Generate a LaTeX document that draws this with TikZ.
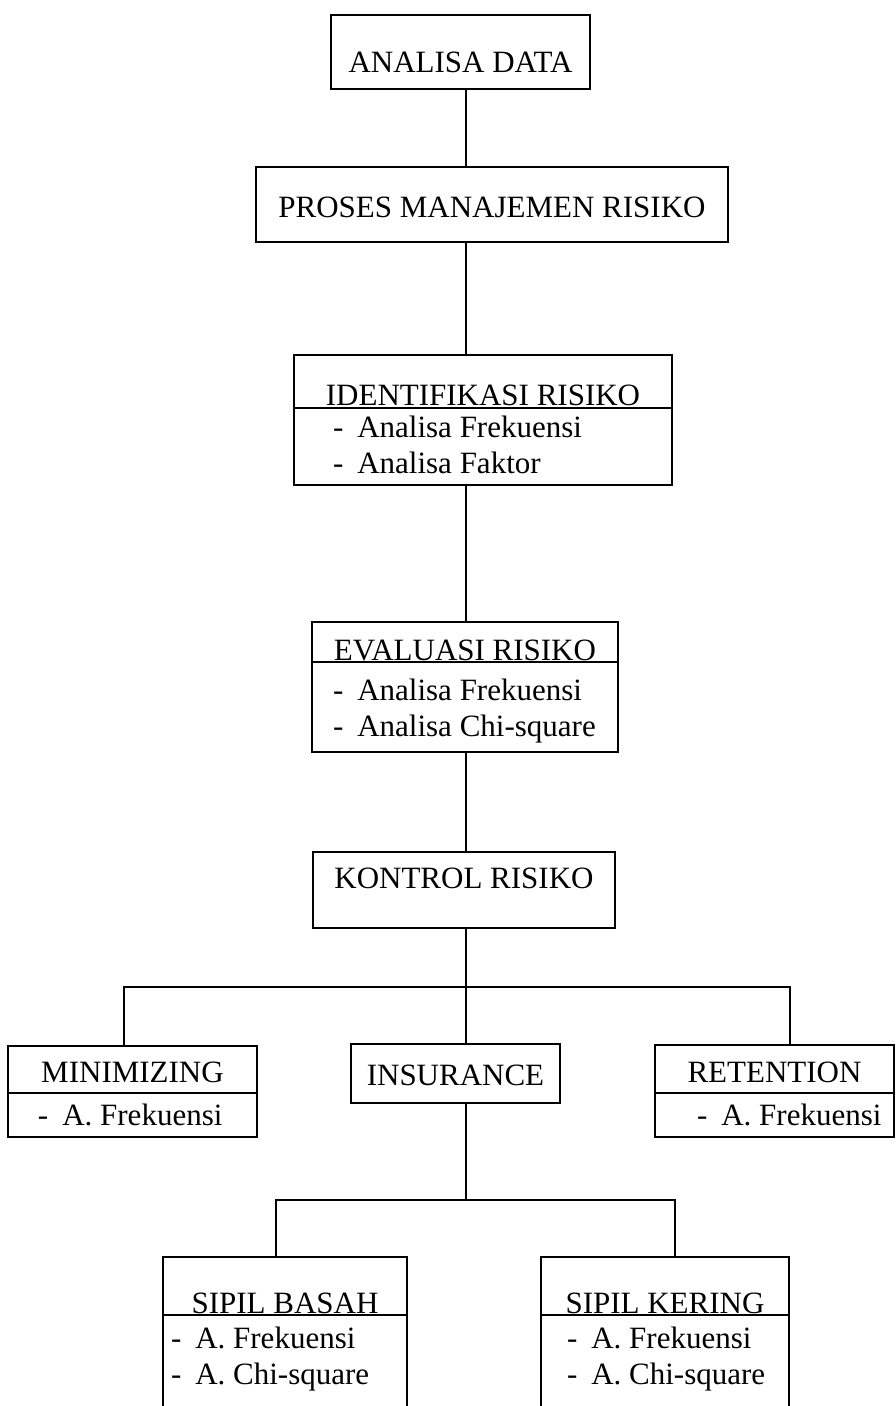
\documentclass[tikz,border=0pt]{standalone}
\usepackage{fontspec}
\setmainfont{Liberation Serif}
\usetikzlibrary{positioning}
% daftar{indent}{lebar sisa}{baris}
\newcommand\daftar[3]{\begin{tabular}[t]{@{\hspace{#1pt}}p{#2pt}@{}}#3\end{tabular}}
\newcommand\butir[1]{-\hspace{14pt}#1}

\begin{document}
\begin{tikzpicture}[x=1pt,y=1pt,line width=2.4pt,
  kotak/.style={draw,rectangle,inner sep=0pt,outer sep=0pt,font=\fontsize{31}{36}\selectfont},
  judul/.style={kotak,anchor=north west,minimum width=#1},
  isi/.style={kotak,minimum width=#1}]
\path[use as bounding box,clip] (0,0) rectangle (896,-1406);
\coordinate (poros) at (466,0);
\node[judul=259,text height=57,text depth=17] (analisa) at (331,-15) {ANALISA DATA};
\node[judul=472,text height=50,text depth=25] (proses) at (256,-167) {PROSES MANAJEMEN RISIKO};
\node[judul=378,text height=50,text depth=3] (identh) at (294,-355) {IDENTIFIKASI RISIKO};
\node[isi=378,text height=29,text depth=48,below=0pt of identh] (identb)
  {\daftar{39}{339}{\butir{Analisa Frekuensi}\\\butir{Analisa Faktor}}};
\node[judul=306,text height=38,text depth=2] (evalh) at (312,-622) {EVALUASI RISIKO};
\node[isi=306,text height=38,text depth=52,below=0pt of evalh] (evalb)
  {\daftar{21}{285}{\butir{Analisa Frekuensi}\\\butir{Analisa Chi-square}}};
\node[judul=302,text height=36,text depth=40] (kontrol) at (313,-852) {KONTROL RISIKO};
% cabang kontrol
\node[judul=249,text height=36,text depth=11] (minimh) at (8,-1046) {MINIMIZING};
\node[isi=249,text height=32,text depth=12,below=0pt of minimh] (minimb)
  {\daftar{30}{219}{\butir{A. Frekuensi}}};
\node[judul=209,text height=41,text depth=18] (insur) at (351,-1044) {INSURANCE};
\node[judul=239,text height=37,text depth=11] (retenh) at (655,-1045) {RETENTION};
\node[isi=239,text height=32,text depth=12,below=0pt of retenh] (retenb)
  {\daftar{42}{197}{\butir{A. Frekuensi}}};
% cabang insurance
\node[judul=244,text height=56,text depth=2] (basahh) at (163,-1257) {SIPIL BASAH};
\node[isi=244,text height=33,text depth=90,below=0pt of basahh] (basahb)
  {\daftar{8}{236}{\butir{A. Frekuensi}\\\butir{A. Chi-square}}};
\node[judul=248,text height=56,text depth=2] (keringh) at (541,-1257) {SIPIL KERING};
\node[isi=248,text height=33,text depth=90,below=0pt of keringh] (keringb)
  {\daftar{26}{222}{\butir{A. Frekuensi}\\\butir{A. Chi-square}}};
% garis
\draw (poros |- analisa.south) -- (poros |- proses.north);
\draw (poros |- proses.south) -- (poros |- identh.north);
\draw (poros |- identb.south) -- (poros |- evalh.north);
\draw (poros |- evalb.south) -- (poros |- kontrol.north);
\draw (poros |- kontrol.south) -- (poros |- insur.north);
\coordinate (cabangkiri) at (124,-987);
\coordinate (cabangkanan) at (790,-987);
\draw (cabangkiri |- minimh.north) -- (cabangkiri) -- (cabangkanan) -- (cabangkanan |- retenh.north);
\coordinate (bawahkiri) at (276,-1200);
\coordinate (bawahkanan) at (675,-1200);
\draw (poros |- insur.south) -- (poros |- bawahkiri);
\draw (bawahkiri |- basahh.north) -- (bawahkiri) -- (bawahkanan) -- (bawahkanan |- keringh.north);
\end{tikzpicture}
\end{document}
